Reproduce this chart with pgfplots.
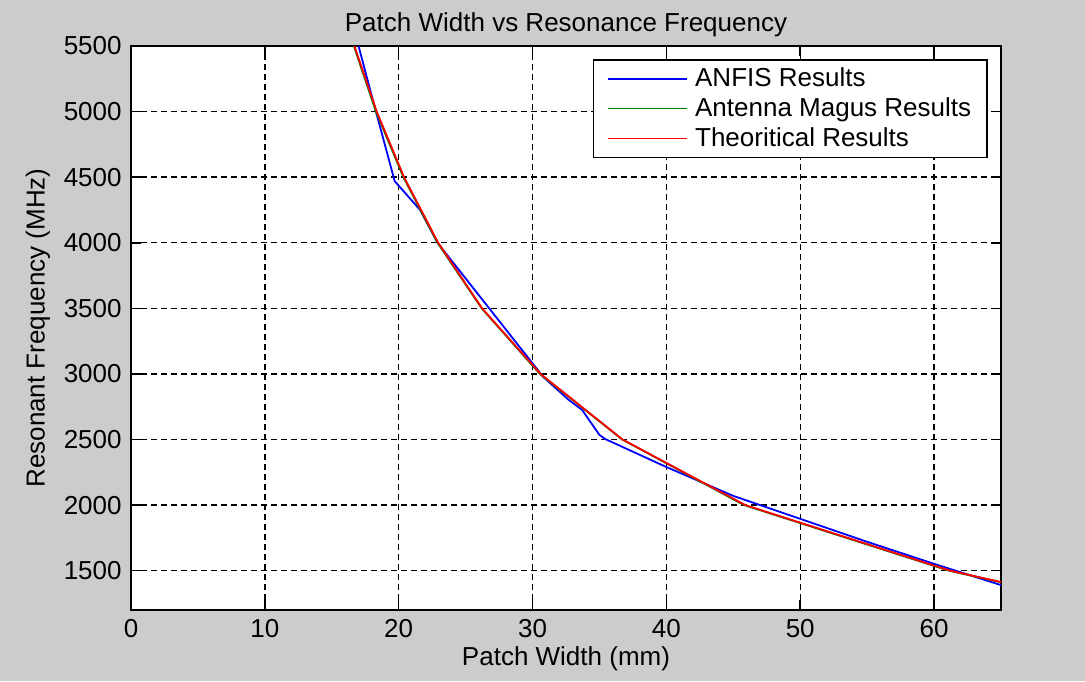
\documentclass[border=0pt]{standalone}
\usepackage{fontspec}
\setmainfont{Liberation Sans}
\usepackage{pgfplots}
\pgfplotsset{compat=1.18}
\definecolor{figbg}{RGB}{204,204,204}
\definecolor{mgreen}{RGB}{0,128,0}

\begin{document}
\begin{tikzpicture}
% figure background, 1 px = 0.5 pt
\fill[figbg] (-65.5pt,-35.5pt) rectangle (477pt,305pt);
\begin{axis}[
    scale only axis,
    width=435pt, height=282pt,
    xmin=0, xmax=65, ymin=1200, ymax=5500,
    xtick={0,10,...,60},
    ytick={1500,2000,...,5500},
    scaled ticks=false,
    /pgf/number format/1000 sep={},
    /pgf/number format/assume math mode=true,
    font=\fontsize{13}{15}\selectfont,
    axis background/.style={fill=white},
    axis line style={line width=0.8pt, black},
    tick align=inside,
    major tick length=5pt,
    tick style={line width=0.8pt, black},
    grid=major,
    major grid style={black, line width=0.7pt, dash pattern=on 3pt off 2pt},
    xticklabel style={anchor=center, inner sep=0pt, yshift=-9.5pt},
    yticklabel style={anchor=east, inner sep=0pt, xshift=-4.5pt},
    title={Patch Width vs Resonance Frequency},
    title style={at={(axis description cs:0.5,1)}, anchor=center, inner sep=0pt, yshift=4.5pt},
    xlabel={Patch Width (mm)},
    xlabel style={at={(axis description cs:0.5,0)}, anchor=center, inner sep=0pt, yshift=-24.25pt},
    ylabel={Resonant Frequency (MHz)},
    ylabel style={at={(axis description cs:0,0.5)}, anchor=center, inner sep=0pt, yshift=46.5pt},
    legend style={at={(axis description cs:1,1)}, anchor=north east,
        xshift=-6.5pt, yshift=-6.5pt, draw=black, line width=0.8pt,
        fill=white, inner xsep=7pt, inner ysep=2pt, row sep=0pt,
        font=\fontsize{13}{15}\selectfont,
        nodes={inner xsep=1pt, inner ysep=2pt}},
    legend cell align=left,
    legend image code/.code={\draw[#1, line width=0.8pt] (0pt,0pt) -- (39.5pt,0pt); \path (42pt,0pt);},
    every axis plot/.append style={line width=0.9pt},
]
\addplot[blue] coordinates {
    (17.0,5500) (18.3,5000) (19.7,4470) (21.6,4250) (22.9,4000)
    (30.8,2977) (32.7,2802) (33.7,2726) (35.0,2535) (35.4,2505)
    (40.0,2290) (45.0,2070) (50.0,1895) (55.0,1720) (60.0,1552) (65.0,1390)
};
\addlegendentry{ANFIS Results}
\addplot[mgreen] coordinates {
    (16.65,5500) (18.30,5000) (20.35,4500) (22.90,4000) (26.20,3500)
    (30.55,3000) (36.70,2500) (45.80,2000) (61.10,1500) (65.50,1400)
};
\addlegendentry{Antenna Magus Results}
\addplot[red] coordinates {
    (16.69,5500) (18.36,5000) (20.40,4500) (22.95,4000) (26.23,3500)
    (30.60,3000) (36.72,2500) (45.90,2000) (61.20,1500) (65.57,1400)
};
\addlegendentry{Theoritical Results}
\end{axis}
\end{tikzpicture}
\end{document}
